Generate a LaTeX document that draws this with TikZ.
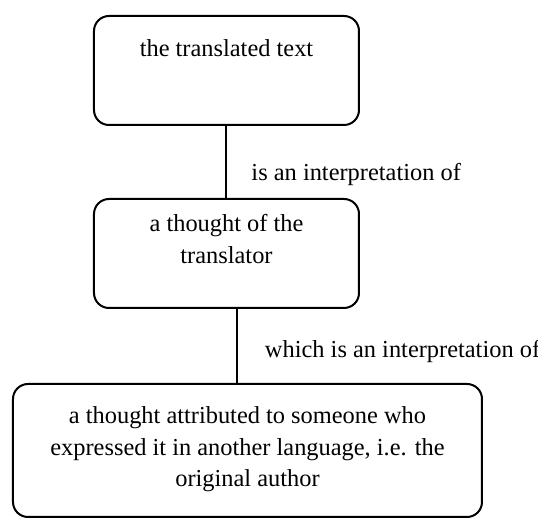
\documentclass[tikz,border=0pt]{standalone}
\usepackage{fontspec}
\setmainfont{Liberation Serif}
\usepackage{tikz}
\tikzset{
    box/.style={draw=black, line width=1pt, rounded corners=7.5pt, align=center,
        inner xsep=0pt, inner ysep=0pt, anchor=north,
        font=\fontsize{12.2}{15.75}\selectfont},
    rel/.style={inner sep=0pt, font=\fontsize{12.2}{15.75}\selectfont}}

\begin{document}
\begin{tikzpicture}[x=0.5pt, y=-0.5pt]

            \useasboundingbox (0,0) rectangle (538,518);

            \node[box, minimum width=132.5pt, text height=20.25pt, text depth=34.25pt] (T) at (226.5,15) {the translated text};
            \node[box, minimum width=132.5pt, text height=32.25pt, text depth=22.25pt] (R) at (226.5,198) {a thought of the\\translator};
            \node[box, minimum width=234.5pt, text height=51.5pt, text depth=15pt] (O) at (247.5,383) {a thought attributed to someone who\\expressed it in another language, i.e. the\\original author};

            \draw[line width=1pt] (T) -- (R) node[rel, pos=0.68, right=12pt] (e1) {is an interpretation of};
            \draw[line width=1pt] ([xshift=5.25pt]R.south) -- ([xshift=5.25pt]R.south |- O.north) node[rel, pos=0.58, right=13.5pt] (e2) {which is an interpretation of};

\end{tikzpicture}
\end{document}
